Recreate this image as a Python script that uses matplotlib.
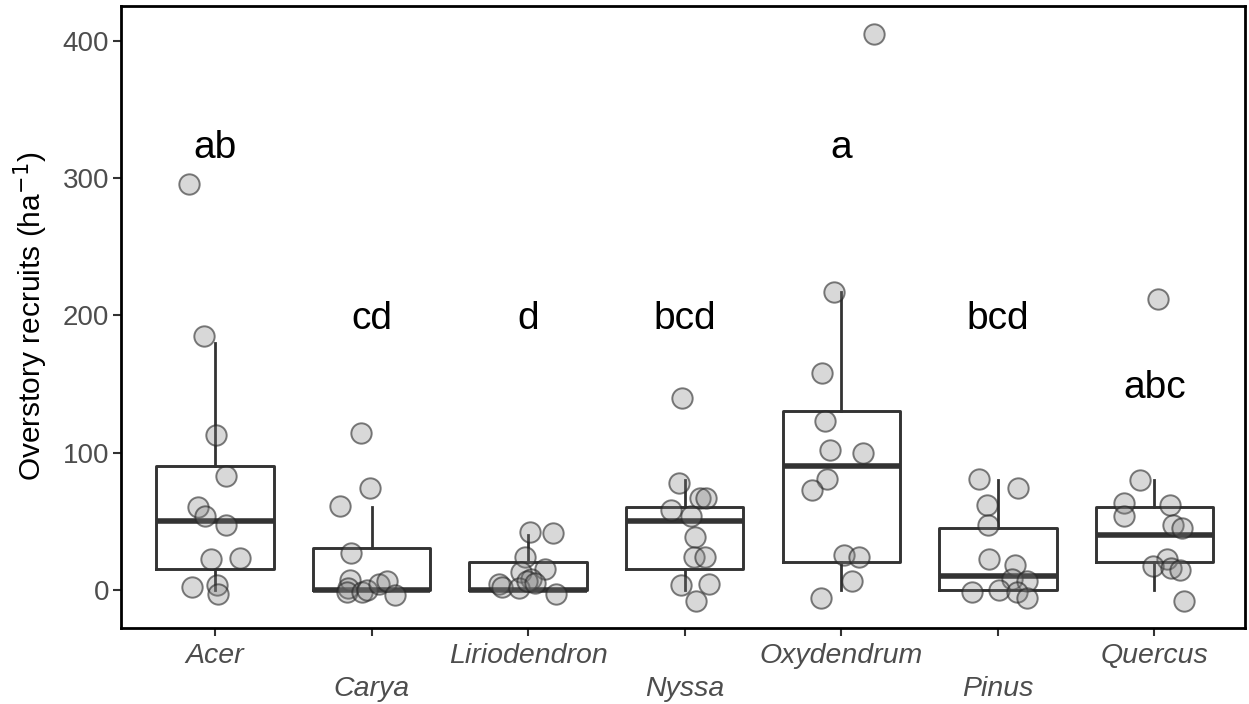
import numpy as np
import matplotlib
matplotlib.use("Agg")
import matplotlib.pyplot as plt

plt.rcParams['font.family'] = ['Liberation Sans', 'DejaVu Sans']

# species on the x axis
species = ["Acer", "Carya", "Liriodendron", "Nyssa", "Oxydendrum", "Pinus", "Quercus"]

# box statistics per species: lower whisker, Q1, median, Q3, upper whisker
whis_lo = [0, 0, 0, 0, 0, 0, 0]
q1 = [15, 0, 0, 15, 20, 0, 20]
med = [50, 0, 0, 50, 90, 10, 40]
q3 = [90, 30, 20, 60, 130, 45, 60]
whis_hi = [180, 60, 40, 80, 217, 80, 80]

# plot-level recruits (ha^-1), as drawn (jittered)
acer = [296, 185, 113, 83, 60, 54, 47, 22, 23, 2, 3, -3]
carya = [114, 74, 61, 27, 7, 1, -2, -2, 0, 4, 6, -4]
liriodendron = [42, 41, 24, 15, 13, 8, 4, 2, 1, 6, -3, 5]
nyssa = [140, 78, 67, 67, 58, 54, 38, 24, 24, 3, 4, -8]
oxydendrum = [405, 217, 158, 123, 102, 100, 81, 73, 25, 24, 6, -6]
pinus = [81, 74, 62, 47, 22, 18, 8, 6, -2, 0, -2, -6]
quercus = [212, 80, 63, 62, 54, 47, 45, 22, 17, 16, 14, -8]

# horizontal jitter of each point (category units)
acer_jit = [-0.169, -0.073, 0.003, 0.067, -0.112, -0.067, 0.067, -0.029, 0.156, -0.15, 0.01, 0.016]
carya_jit = [-0.066, -0.008, -0.2, -0.13, -0.136, -0.149, -0.155, -0.059, -0.027, 0.049, 0.1, 0.151]
lirio_jit = [0.012, 0.159, -0.02, 0.108, -0.045, 0.018, -0.186, -0.166, -0.058, -0.007, 0.178, 0.044]
nyssa_jit = [-0.02, -0.038, 0.1, 0.133, -0.09, 0.037, 0.064, 0.058, 0.128, -0.027, 0.154, 0.073]
oxy_jit = [0.206, -0.045, -0.124, -0.107, -0.075, 0.136, -0.092, -0.188, 0.015, 0.11, 0.068, -0.128]
pinus_jit = [-0.12, 0.126, -0.071, -0.061, -0.056, 0.11, 0.092, 0.184, -0.163, 0.008, 0.12, 0.184]
quercus_jit = [0.024, -0.093, -0.195, 0.098, -0.193, 0.119, 0.177, 0.077, -0.008, 0.105, 0.166, 0.188]

# significance letters and their baseline heights
letters = ["ab", "cd", "d", "bcd", "a", "bcd", "abc"]
letter_y = [315, 190, 190, 190, 315, 190, 140]

values = [acer, carya, liriodendron, nyssa, oxydendrum, pinus, quercus]
jitters = [acer_jit, carya_jit, lirio_jit, nyssa_jit, oxy_jit, pinus_jit, quercus_jit]

fig = plt.figure(figsize=(12.49, 7.04), dpi=100)
ax = fig.add_axes([0.097, 0.108, 0.9, 0.884])

pos = np.arange(1, len(species) + 1)
stats = []
for i in range(len(species)):
    stats.append(dict(whislo=whis_lo[i], q1=q1[i], med=med[i], q3=q3[i],
                      whishi=whis_hi[i], fliers=[]))

line_col = '#333333'
ax.bxp(stats, positions=pos, widths=0.75, showcaps=False, showfliers=False,
       boxprops=dict(color=line_col, linewidth=2.1),
       whiskerprops=dict(color=line_col, linewidth=2.0),
       medianprops=dict(color=line_col, linewidth=4.0, solid_capstyle='butt'),
       zorder=2)

for i in range(len(species)):
    xs = pos[i] + np.array(jitters[i])
    ax.scatter(xs, values[i], s=215, facecolor=(0.5, 0.5, 0.5, 0.3),
               edgecolor=(0.15, 0.15, 0.15, 0.6), linewidth=1.4, zorder=3)
    ax.text(pos[i], letter_y[i], letters[i], ha='center', va='baseline',
            fontsize=28, color='black', zorder=4)

ax.set_xlim(0.4, 7.58)
ax.set_ylim(-28, 426)
ax.set_yticks([0, 100, 200, 300, 400])
ax.set_xticks(pos)
ax.set_xticklabels([s if i % 2 == 0 else "\n" + s for i, s in enumerate(species)],
                   fontstyle='italic')

ax.set_ylabel("Overstory recruits (ha$^{-1}$)", fontsize=21.5, color='black', labelpad=9)
ax.tick_params(axis='both', labelsize=20, labelcolor='#4D4D4D', color='#333333',
               length=5.5, width=1.5, pad=3)
ax.tick_params(axis='x', labelsize=20.5, pad=5.5)
for lab in ax.get_xticklabels():
    lab.set_linespacing(1.35)

for sp in ax.spines.values():
    sp.set_linewidth(2.0)
    sp.set_color('black')

fig.savefig("out.png", dpi=100)
